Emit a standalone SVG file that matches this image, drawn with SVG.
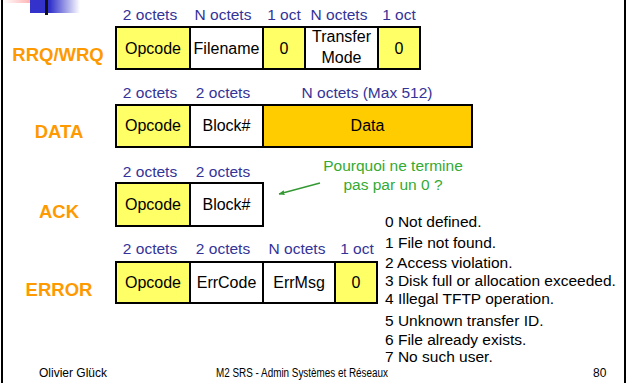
<svg xmlns="http://www.w3.org/2000/svg" width="628" height="383" viewBox="0 0 628 383">
<defs>
<linearGradient id="gBlue" x1="0" y1="0" x2="1" y2="0">
<stop offset="0" stop-color="#3333cc"/><stop offset="0.4" stop-color="#3333cc"/><stop offset="1" stop-color="#ffffff"/>
</linearGradient>
<linearGradient id="gPink" x1="0" y1="0" x2="1" y2="0">
<stop offset="0" stop-color="#ffffff"/><stop offset="1" stop-color="#ff9999"/>
</linearGradient>
<marker id="arr" viewBox="0 0 10 10" refX="9" refY="5" markerWidth="6" markerHeight="6" orient="auto" markerUnits="userSpaceOnUse">
<path d="M0,1 L10,5 L0,9 z" fill="#339933"/>
</marker>
<style>
.box{stroke:#000;stroke-width:2}
.y{fill:#ffff66}
.w{fill:#ffffff}
.g{fill:#ffcc00}
.t{font-family:"Liberation Sans",Arial,sans-serif;font-size:16px;fill:#000;text-anchor:middle}
.h{font-family:"Liberation Sans",Arial,sans-serif;font-size:15.5px;fill:#333399;text-anchor:middle}
.lbl{font-family:"Liberation Sans",Arial,sans-serif;font-size:18.5px;font-weight:bold;fill:#ff9900;text-anchor:middle}
.err{font-family:"Liberation Sans",Arial,sans-serif;font-size:15.5px;fill:#000}
.grn{font-family:"Liberation Sans",Arial,sans-serif;font-size:15.5px;fill:#33aa33;text-anchor:middle}
.ft{font-family:"Liberation Sans",Arial,sans-serif;font-size:12px;fill:#000}
</style>
</defs>
<rect width="628" height="383" fill="#ffffff"/>
<g id="frame">
<rect x="3" y="0" width="37" height="3" fill="url(#gPink)"/>
<rect x="30" y="0" width="50" height="13" fill="url(#gBlue)"/>
<rect x="45" y="0" width="3" height="15" fill="#111"/>
<line x1="2" y1="0" x2="2" y2="383" stroke="#000" stroke-width="2"/>
<line x1="625" y1="0" x2="625" y2="383" stroke="#000" stroke-width="2"/>
</g>
<g id="rrq">
<text class="lbl" x="58" y="61">RRQ/WRQ</text>
<text class="h" x="150" y="20">2 octets</text>
<text class="h" x="223" y="20">N octets</text>
<text class="h" x="284" y="20">1 oct</text>
<text class="h" x="339" y="20">N octets</text>
<text class="h" x="399" y="20">1 oct</text>
<rect class="box y" x="116" y="27" width="74" height="42"/>
<rect class="box w" x="190" y="27" width="73" height="42"/>
<rect class="box y" x="263" y="27" width="42" height="42"/>
<rect class="box w" x="305" y="27" width="73" height="42"/>
<rect class="box y" x="378" y="27" width="42" height="42"/>
<text class="t" x="153" y="54">Opcode</text>
<text class="t" x="226.5" y="54">Filename</text>
<text class="t" x="284" y="54">0</text>
<text class="t" x="341.5" y="42">Transfer</text>
<text class="t" x="341.5" y="63">Mode</text>
<text class="t" x="399" y="54">0</text>
</g>
<g id="data">
<text class="lbl" x="59" y="138">DATA</text>
<text class="h" x="150" y="98">2 octets</text>
<text class="h" x="223" y="98">2 octets</text>
<text class="h" x="367" y="98">N octets (Max 512)</text>
<rect class="box y" x="116" y="105" width="74" height="42"/>
<rect class="box w" x="190" y="105" width="73" height="42"/>
<rect class="box g" x="263" y="105" width="209" height="42"/>
<text class="t" x="153" y="131">Opcode</text>
<text class="t" x="226.5" y="131">Block#</text>
<text class="t" x="367.5" y="131">Data</text>
</g>
<g id="ack">
<text class="lbl" x="59" y="218">ACK</text>
<text class="h" x="150" y="177">2 octets</text>
<text class="h" x="223" y="177">2 octets</text>
<rect class="box y" x="116" y="183" width="74" height="43"/>
<rect class="box w" x="190" y="183" width="73" height="43"/>
<text class="t" x="153" y="210">Opcode</text>
<text class="t" x="226.5" y="210">Block#</text>
</g>
<g id="note">
<text class="grn" x="393" y="171">Pourquoi ne termine</text>
<text class="grn" x="393" y="190">pas par un 0 ?</text>
</g>
<g id="connectors">
<line x1="320" y1="183" x2="279" y2="194" stroke="#339933" stroke-width="1.5" marker-end="url(#arr)"/>
</g>
<g id="error">
<text class="lbl" x="59" y="296">ERROR</text>
<text class="h" x="150" y="254">2 octets</text>
<text class="h" x="223" y="254">2 octets</text>
<text class="h" x="297" y="254">N octets</text>
<text class="h" x="357" y="254">1 oct</text>
<rect class="box y" x="116" y="262" width="74" height="41"/>
<rect class="box w" x="190" y="262" width="73" height="41"/>
<rect class="box w" x="263" y="262" width="72" height="41"/>
<rect class="box y" x="335" y="262" width="42" height="41"/>
<text class="t" x="153" y="288">Opcode</text>
<text class="t" x="226.5" y="288">ErrCode</text>
<text class="t" x="299" y="288">ErrMsg</text>
<text class="t" x="356" y="288">0</text>
</g>
<g id="errcodes">
<text class="err" x="385" y="227">0 Not defined.</text>
<text class="err" x="385" y="248">1 File not found.</text>
<text class="err" x="385" y="268">2 Access violation.</text>
<text class="err" x="385" y="286">3 Disk full or allocation exceeded.</text>
<text class="err" x="385" y="304">4 Illegal TFTP operation.</text>
<text class="err" x="385" y="326">5 Unknown transfer ID.</text>
<text class="err" x="385" y="345">6 File already exists.</text>
<text class="err" x="385" y="362">7 No such user.</text>
</g>
<g id="footer">
<text class="ft" x="39" y="377" textLength="68" lengthAdjust="spacingAndGlyphs">Olivier Glück</text>
<text class="ft" x="216" y="377" textLength="172" lengthAdjust="spacingAndGlyphs">M2 SRS - Admin Systèmes et Réseaux</text>
<text class="ft" x="593" y="377">80</text>
</g>
</svg>
